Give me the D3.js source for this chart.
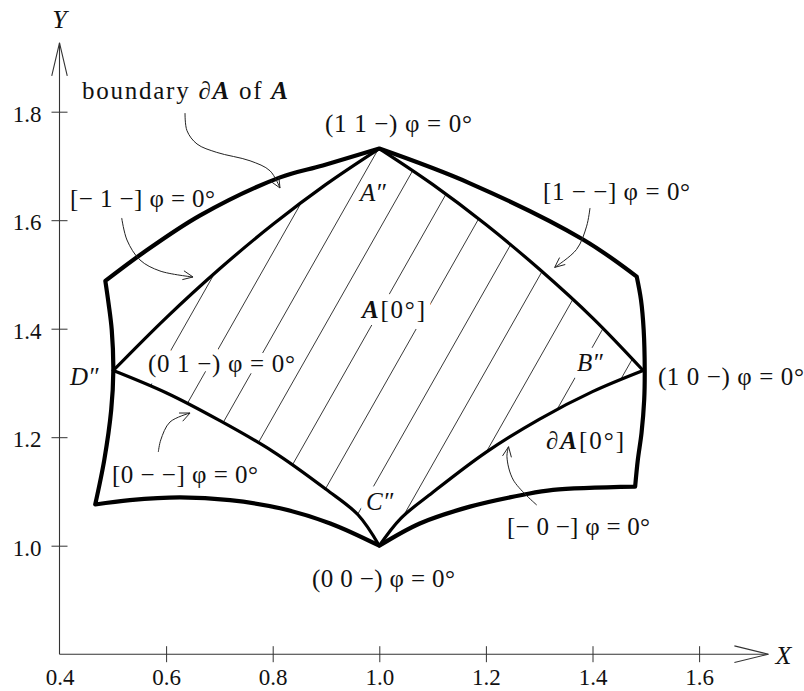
<!DOCTYPE html>
<html>
<head>
<meta charset="utf-8">
<script src="https://cdn.jsdelivr.net/npm/d3@7"></script>
<style>
  body { margin: 0; background: #fff; }
  svg { display: block; }
  text { font-family: "Liberation Serif", "Times New Roman", serif; fill: #111; }
</style>
</head>
<body>
<svg id="chart" width="804" height="691"></svg>
<script>
// ---- Outer boundary ∂A, one edge at a time, as [X, Y] pairs ----
const outerTopLeft     = [[0.486, 1.488], [0.557, 1.540], [0.664, 1.609], [0.814, 1.679], [0.894, 1.701], [1.000, 1.732]];
const outerTopRight    = [[1.000, 1.732], [1.170, 1.668], [1.383, 1.564], [1.483, 1.496]];
const outerRight       = [[1.483, 1.496], [1.491, 1.453], [1.496, 1.398], [1.498, 1.324], [1.497, 1.269], [1.492, 1.208], [1.485, 1.158], [1.480, 1.109]];
const outerBottomRight = [[1.480, 1.109], [1.326, 1.103], [1.270, 1.094], [1.170, 1.072], [1.076, 1.041], [1.000, 1.000]];
const outerBottomLeft  = [[1.000, 1.000], [0.908, 1.041], [0.814, 1.069], [0.720, 1.084], [0.626, 1.089], [0.532, 1.084], [0.467, 1.076]];
const outerLeft        = [[0.467, 1.076], [0.484, 1.158], [0.497, 1.250], [0.501, 1.323], [0.498, 1.398], [0.492, 1.447], [0.486, 1.488]];

// ---- Inner region A[0°]: D'' -> A'' -> B'' -> C'' -> D'' ----
const innerDA = [[0.501, 1.323], [0.600, 1.420], [0.700, 1.510], [0.800, 1.592], [0.900, 1.666], [1.000, 1.732]];
const innerAB = [[1.000, 1.732], [1.100, 1.666], [1.200, 1.592], [1.300, 1.510], [1.400, 1.420], [1.495, 1.323]];
const innerBC = [[1.495, 1.323], [1.400, 1.284], [1.300, 1.233], [1.200, 1.172], [1.100, 1.098], [1.040, 1.050], [1.000, 1.000]];
const innerCD = [[1.000, 1.000], [0.960, 1.057], [0.900, 1.104], [0.800, 1.174], [0.700, 1.231], [0.600, 1.282], [0.501, 1.323]];

// Hatching of A[0°]: X where each 60° line meets Y = 1.0
const hatchOffsets = [0.401, 0.4885, 0.576, 0.6635, 0.751, 0.8385, 0.926, 1.0135, 1.101, 1.1885, 1.276];
const hatchAngleDeg = 60;

// Axis ticks
const xTicks = [0.4, 0.6, 0.8, 1.0, 1.2, 1.4, 1.6];
const yTicks = [1.0, 1.2, 1.4, 1.6, 1.8];
const xAxisEnd = 1.73;
const yAxisMin = 0.8, yAxisEnd = 1.927;

// Leader curves for the annotations (ending at the arrow tip)
const leaderBoundary = [[0.6355, 1.7976], [0.6392, 1.7650], [0.6580, 1.7405], [0.6950, 1.7250], [0.7575, 1.7095], [0.7950, 1.6910], [0.8137, 1.6593]];
const leaderMinus1   = [[0.5167, 1.6041], [0.5266, 1.5635], [0.5510, 1.5267], [0.5885, 1.5064], [0.6505, 1.4953]];
const leader1Minus   = [[1.3953, 1.6225], [1.3890, 1.5890], [1.3700, 1.5460], [1.3290, 1.5130]];
const leader0Minus   = [[0.5854, 1.1727], [0.5900, 1.1950], [0.6073, 1.2280], [0.6449, 1.2446]];
const leaderMinus0   = [[1.2954, 1.0750], [1.2515, 1.1210], [1.2395, 1.1640], [1.2425, 1.1825]];

const svg = d3.select("#chart");
const x = d3.scaleLinear().domain([0.4, 1.6]).range([59.5, 699.1]);
const y = d3.scaleLinear().domain([1.0, 1.8]).range([545.7, 111.7]);

const smooth = d3.line().x(d => x(d[0])).y(d => y(d[1])).curve(d3.curveCatmullRom.alpha(0.5));

// closed path built from consecutive edges, keeping the corners sharp
function chain(edges) {
  return edges.map((e, i) => i === 0 ? smooth(e) : smooth(e).replace(/^M/, "L")).join("") + "Z";
}

const defs = svg.append("defs");
defs.append("clipPath").attr("id", "innerClip")
  .append("path").attr("d", chain([innerDA, innerAB, innerBC, innerCD]));

// ---- hatching ----
const tanA = Math.tan(hatchAngleDeg * Math.PI / 180);
svg.append("g").attr("clip-path", "url(#innerClip)")
  .selectAll("line").data(hatchOffsets).join("line")
  .attr("x1", c => x(c + (0.95 - 1) / tanA)).attr("y1", y(0.95))
  .attr("x2", c => x(c + (1.80 - 1) / tanA)).attr("y2", y(1.80))
  .attr("stroke", "#222").attr("stroke-width", 0.9);

// ---- labels (a white underlay keeps the hatching clear of text) ----
const haloLayer = svg.append("g").attr("font-size", 25);
const labelLayer = svg.append("g").attr("font-size", 25);
function writeText(layer, px, py, parts, opts) {
  const t = layer.append("text").attr("x", x(px)).attr("y", y(py));
  if (opts.len) t.attr("textLength", opts.len).attr("lengthAdjust", "spacing");
  parts.forEach(p => {
    const s = t.append("tspan").text(p.t);
    if (p.bi) s.attr("font-weight", "bold").attr("font-style", "italic");
    if (p.i) s.attr("font-style", "italic");
  });
  return t;
}
function label(px, py, parts, opts = {}) {
  if (opts.halo) {
    writeText(haloLayer, px, py, parts, opts)
      .style("fill", "#fff").attr("stroke", "#fff").attr("stroke-width", 14).attr("stroke-linejoin", "round");
  }
  writeText(labelLayer, px, py, parts, opts);
}
const boldA = { t: "A", bi: true };
label(0.4422, 1.8234, [{ t: "boundary " }, { t: "∂" }, boldA, { t: " of " }, boldA], { len: 206 });
label(0.8981, 1.7626, [{ t: "(1 1 −) φ = 0°" }], { len: 147 });
label(0.4197, 1.6243, [{ t: "[− 1 −] φ = 0°" }], { len: 145 });
label(0.9638, 1.6354, [{ t: "A″", i: true }], { halo: true });
label(1.3071, 1.6372, [{ t: "[1 − −] φ = 0°" }], { len: 147 });
label(0.9675, 1.4197, [boldA, { t: "[0°]" }], { len: 63, halo: true });
label(0.5660, 1.3202, [{ t: "(0 1 −) φ = 0°" }], { len: 147, halo: true });
label(0.4197, 1.2963, [{ t: "D″", i: true }]);
label(1.3709, 1.3221, [{ t: "B″", i: true }], { halo: true });
label(1.5227, 1.2963, [{ t: "(1 0 −) φ = 0°" }], { len: 146 });
label(1.3128, 1.1782, [{ t: "∂" }, boldA, { t: "[0°]" }], { len: 78 });
label(0.4985, 1.1156, [{ t: "[0 − −] φ = 0°" }], { len: 146 });
label(0.9751, 1.0658, [{ t: "C″", i: true }], { halo: true });
label(0.8737, 0.9239, [{ t: "(0 0 −) φ = 0°" }], { len: 143 });
label(1.2396, 1.0197, [{ t: "[− 0 −] φ = 0°" }], { len: 143 });

// ---- boundary curves ----
const lines = svg.append("g").attr("fill", "none").attr("stroke", "#000")
  .attr("stroke-linejoin", "round").attr("stroke-linecap", "round");
lines.append("path")
  .attr("d", chain([outerTopLeft, outerTopRight, outerRight, outerBottomRight, outerBottomLeft, outerLeft]))
  .attr("stroke-width", 4.2);
[innerDA, innerAB, innerBC, innerCD].forEach(e =>
  lines.append("path").attr("d", smooth(e)).attr("stroke-width", 3.2));

// ---- leader arrows ----
function openHead(g, tip, from, len, spread) {
  const a = Math.atan2(tip[1] - from[1], tip[0] - from[0]);
  const p = s => [tip[0] - len * Math.cos(a + s), tip[1] - len * Math.sin(a + s)];
  const l = p(spread), r = p(-spread);
  g.append("path").attr("d", `M${l[0]},${l[1]}L${tip[0]},${tip[1]}L${r[0]},${r[1]}`);
}
const leaders = svg.append("g").attr("fill", "none").attr("stroke", "#222").attr("stroke-width", 1);
[leaderBoundary, leaderMinus1, leader1Minus, leader0Minus, leaderMinus0].forEach(pts => {
  leaders.append("path").attr("d", smooth(pts));
  const n = pts.length;
  openHead(leaders, [x(pts[n - 1][0]), y(pts[n - 1][1])], [x(pts[n - 2][0]), y(pts[n - 2][1])], 11, 0.42);
});

// ---- axes ----
const axisG = svg.append("g").attr("stroke", "#333").attr("stroke-width", 1.1).attr("fill", "none");
const ox = x(0.4), oy = y(yAxisMin);
axisG.append("line").attr("x1", ox).attr("y1", oy).attr("x2", x(xAxisEnd)).attr("y2", oy);
axisG.append("line").attr("x1", ox).attr("y1", oy).attr("x2", ox).attr("y2", y(yAxisEnd));
openHead(axisG, [x(xAxisEnd), oy], [ox, oy], 35, 0.24);
openHead(axisG, [ox, y(yAxisEnd)], [ox, oy], 34, 0.23);

const xAxis = svg.append("g").attr("transform", `translate(0,${oy})`)
  .call(d3.axisBottom(x).tickValues(xTicks).tickFormat(d3.format(".1f")).tickSize(8).tickSizeOuter(0).tickPadding(6));
xAxis.select(".domain").remove();
xAxis.selectAll(".tick line").attr("y1", -8).attr("stroke", "#333")
  .attr("display", d => d === 0.4 ? "none" : null);
xAxis.selectAll("text").attr("font-size", 23).attr("fill", "#111");

const yAxis = svg.append("g").attr("transform", `translate(${ox},0)`)
  .call(d3.axisLeft(y).tickValues(yTicks).tickFormat(d3.format(".1f")).tickSize(8).tickSizeOuter(0).tickPadding(10));
yAxis.select(".domain").remove();
yAxis.selectAll(".tick line").attr("x1", 8).attr("stroke", "#333");
yAxis.selectAll("text").attr("font-size", 23).attr("fill", "#111").attr("dy", "0.42em");

// axis titles
svg.append("text").attr("x", ox).attr("y", y(yAxisEnd) - 15).attr("text-anchor", "middle")
  .attr("font-size", 26).attr("font-style", "italic").text("Y");
svg.append("text").attr("x", x(xAxisEnd) + 7).attr("y", oy + 10)
  .attr("font-size", 26).attr("font-style", "italic").text("X");
</script>
</body>
</html>
